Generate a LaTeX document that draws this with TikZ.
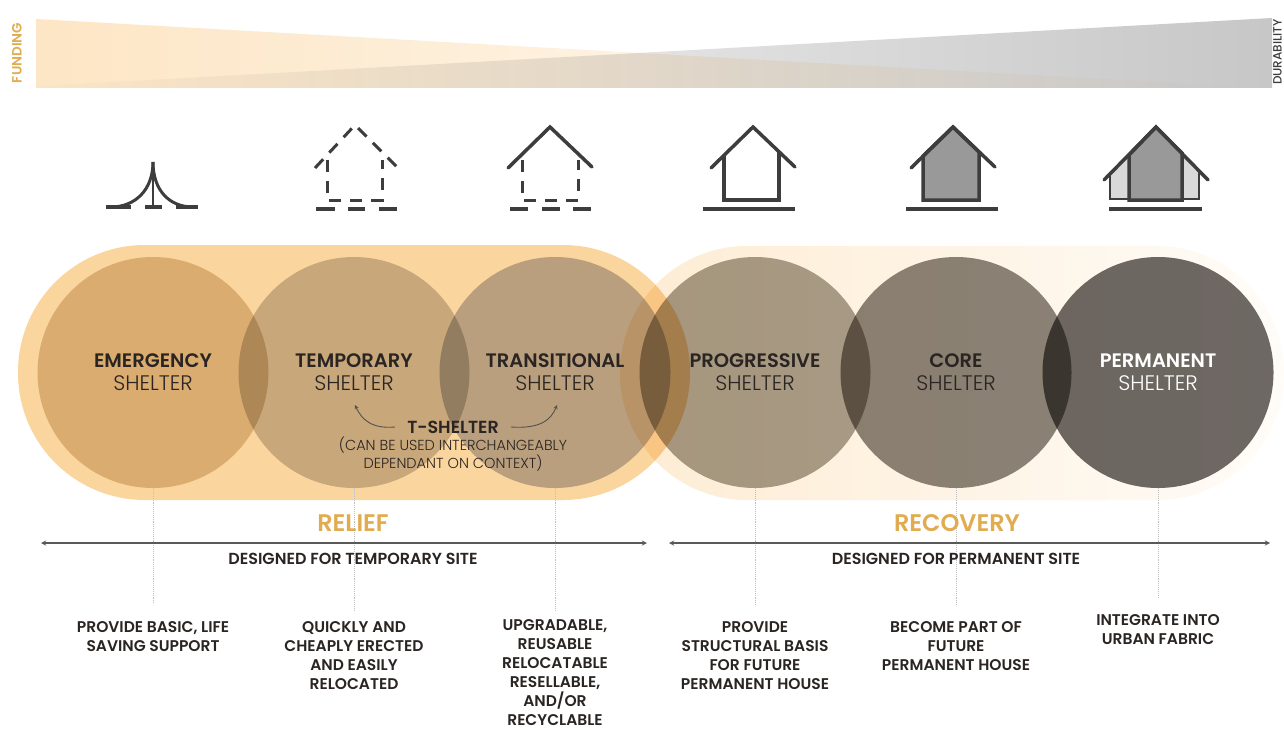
\documentclass[tikz,border=0pt]{standalone}
\usepackage{fontspec}
\setmainfont{Poppins}[UprightFont=* Medium,BoldFont=* SemiBold]
\newfontfamily\lightfont{Poppins Light}
\definecolor{reliefcol}{HTML}{FBD59E}
\definecolor{relieftxt}{HTML}{E0AC4F}
\definecolor{inkcol}{HTML}{3D3D3D}
\definecolor{txtcol}{HTML}{2A2522}
\definecolor{emergencycol}{RGB}{222,206,181}
\definecolor{temporarycol}{RGB}{204,201,197}
\definecolor{transitionalcol}{RGB}{188,191,202}
\definecolor{progressivecol}{RGB}{168,162,150}
\definecolor{corecol}{RGB}{139,134,127}
\definecolor{permanentcol}{RGB}{110,106,104}
\tikzset{
	disc/.style={circle,minimum size=231pt,inner sep=0pt,fill=#1},
	title/.style={align=center,text=txtcol,font=\fontsize{19.5}{23}\selectfont},
	small/.style={align=center,text=txtcol,font=\bfseries\fontsize{15.5}{19}\selectfont},
	sitetxt/.style={small,font=\bfseries\fontsize{16}{18}\selectfont},
	band/.style={font=\bfseries\fontsize{24}{26}\selectfont,text=relieftxt},
	leader/.style={gray!50,densely dotted,line width=0.9pt},
	span/.style={<->,>=stealth,line width=1.3pt,black!65},
	solid line/.style={inkcol,line width=3.5pt,line cap=round,line join=miter},
	dash line/.style={inkcol,line width=3pt,dash pattern=on 12pt off 9pt},
	ground/.style={inkcol,line width=4pt}
}
\begin{document}
\begin{tikzpicture}[x=1pt,y=-1pt]
	%%%%% START %%%%%
	\def\cy{372.5}
	\def\xone{153}
	\def\xtwo{354}
	\def\xthree{555}
	\def\xfour{755}
	\def\xfive{956}
	\def\xsix{1158}
	\def\ygr{209}
	\useasboundingbox[fill=white] (0,0) rectangle (1284,730);

	% bars at the top
	\begin{scope}[blend mode=multiply]
		\shade[left color=white,middle color=black!9,right color=black!22] (5,88) -- (1272,18) -- (1272,88) -- cycle;
		\shade[left color=reliefcol!60,middle color=reliefcol!45,right color=white] (36,19) -- (1262,88) -- (36,88) -- cycle;
	\end{scope}
	\node[rotate=90,text=relieftxt,font=\bfseries\fontsize{13.5}{15}\selectfont] (funding) at (17,53) {FUNDING};
	\node[rotate=90,text=inkcol,inner sep=0pt,font=\fontsize{12}{14}\selectfont] (durability) at (1277.5,52) {DURABILITY};

	% tent
	\draw[inkcol,line width=3pt] (\xone,162) .. controls (\xone,190) and (135,207) .. (111,207);
	\draw[inkcol,line width=3pt] (\xone,162) .. controls (\xone,190) and (169,207) .. (193,207);
	\draw[inkcol,line width=1.2pt] (\xone,172) -- (\xone,207);
	\draw[ground] (106,207) -- (131,207);
	\draw[ground] (145,207) -- (162,207);
	\draw[ground] (176,207) -- (198,207);

	% dashed house
	\draw[dash line] (315,168) -- (355,125) -- (398,168);
	\draw[dash line] (327,160) -- (327,200) -- (382,200) -- (382,160);
	\draw[ground] (316,\ygr) -- (335,\ygr);
	\draw[ground] (348,\ygr) -- (365,\ygr);
	\draw[ground] (379,\ygr) -- (397,\ygr);

	% dashed walls, solid roof
	\draw[dash line] (522,160) -- (522,200) -- (578,200) -- (578,160);
	\draw[solid line] (508,168) -- (550,127) -- (592,167);
	\draw[ground] (510,\ygr) -- (528,\ygr);
	\draw[ground] (542,\ygr) -- (560,\ygr);
	\draw[ground] (573,\ygr) -- (591,\ygr);

	% solid house
	\draw[inkcol,line width=3.5pt] (724,156) -- (724,200) -- (779,200) -- (779,152);
	\draw[solid line] (711,168) -- (753,127) -- (795,167);
	\draw[ground] (703,\ygr) -- (795,\ygr);

	% filled house
	\draw[inkcol,line width=3.5pt,fill=black!40] (923,156) -- (923,200) -- (979,200) -- (979,152) -- (953,127) -- cycle;
	\draw[solid line] (911,168) -- (953,127) -- (995,167);
	\draw[ground] (906,\ygr) -- (998,\ygr);

	% house with wings
	\draw[inkcol,line width=1.8pt,fill=black!15] (1110,174) -- (1110,199) -- (1129,199) -- (1129,155) -- cycle;
	\draw[inkcol,line width=1.8pt,fill=black!15] (1199,171) -- (1199,199) -- (1182,199) -- (1182,153) -- cycle;
	\draw[inkcol,line width=3.5pt,fill=black!40] (1129,155) -- (1129,200) -- (1182,200) -- (1182,153) -- (1156,127) -- cycle;
	\draw[solid line] (1104,180) -- (1156,127) -- (1208,180);
	\draw[ground] (1109,\ygr) -- (1202,\ygr);

	% capsules and discs
	\begin{scope}[blend mode=multiply]
		\fill[reliefcol,rounded corners=127pt] (18,245) rectangle (690,500);
		\shade[left color=reliefcol!45,right color=reliefcol!8,rounded corners=127pt] (620,246) rectangle (1284,500);
		\node[disc=emergencycol] (emergency) at (\xone,\cy) {};
		\node[disc=temporarycol] (temporary) at (\xtwo,\cy) {};
		\node[disc=transitionalcol] (transitional) at (\xthree,\cy) {};
		\node[disc=progressivecol] (progressive) at (\xfour,\cy) {};
		\node[disc=corecol] (core) at (\xfive,\cy) {};
		\node[disc=permanentcol] (permanent) at (\xsix,\cy) {};
	\end{scope}

	\node[title] (emergencytxt) at (\xone,\cy) {\textbf{EMERGENCY}\\{\lightfont\fontsize{21}{23}\selectfont SHELTER}};
	\node[title] (temporarytxt) at (\xtwo,\cy) {\textbf{TEMPORARY}\\{\lightfont\fontsize{21}{23}\selectfont SHELTER}};
	\node[title] (transitionaltxt) at (\xthree,\cy) {\textbf{TRANSITIONAL}\\{\lightfont\fontsize{21}{23}\selectfont SHELTER}};
	\node[title] (progressivetxt) at (\xfour,\cy) {\textbf{PROGRESSIVE}\\{\lightfont\fontsize{21}{23}\selectfont SHELTER}};
	\node[title] (coretxt) at (\xfive,\cy) {\textbf{CORE}\\{\lightfont\fontsize{21}{23}\selectfont SHELTER}};
	\node[title,text=white] (permanenttxt) at (\xsix,\cy) {\textbf{PERMANENT}\\{\lightfont\fontsize{21}{23}\selectfont SHELTER}};

	% t-shelter
	\node[text=txtcol,inner xsep=12pt,inner ysep=0pt,font=\bfseries\fontsize{17.5}{19}\selectfont] (tshelter) at (453,427) {T-SHELTER};
	\node[align=center,text=txtcol,font=\lightfont\fontsize{14.5}{16}\selectfont] (tnote) at (453,454) {(CAN BE USED INTERCHANGEABLY\\DEPENDANT ON CONTEXT)};
	\coordinate (tleft) at (355,405);
	\coordinate (tright) at (557,405);
	\draw[->,>=stealth,txtcol!80,line width=0.9pt] (tshelter.west) .. controls (372,429) and (362,420) .. (tleft);
	\draw[->,>=stealth,txtcol!80,line width=0.9pt] (tshelter.east) .. controls (540,429) and (551,420) .. (tright);

	% leaders
	\coordinate (leadone) at (\xone,603);
	\coordinate (leadtwo) at (\xtwo,610);
	\coordinate (leadthree) at (\xthree,610);
	\coordinate (leadfour) at (\xfour,605);
	\coordinate (leadfive) at (\xfive,605);
	\coordinate (leadsix) at (\xsix,598);
	\draw[leader] (emergency.south) -- (leadone);
	\draw[leader] (temporary.south) -- (leadtwo);
	\draw[leader] (transitional.south) -- (leadthree);
	\draw[leader] (progressive.south) -- (leadfour);
	\draw[leader] (core.south) -- (leadfive);
	\draw[leader] (permanent.south) -- (leadsix);

	% relief and recovery
	\node[band] (relief) at (353,523) {RELIEF};
	\node[band] (recovery) at (957,523) {RECOVERY};
	\coordinate (reliefa) at (41,543);
	\coordinate (reliefb) at (647,543);
	\coordinate (recova) at (669,543);
	\coordinate (recovb) at (1270,543);
	\draw[span] (reliefa) -- (reliefb);
	\draw[span] (recova) -- (recovb);
	\node[sitetxt] (tempsite) at (353,559) {DESIGNED FOR TEMPORARY SITE};
	\node[sitetxt] (permsite) at (956,559) {DESIGNED FOR PERMANENT SITE};

	% purposes
	\node[small,anchor=north] (purposeone) at (\xone,618) {PROVIDE BASIC, LIFE\\SAVING SUPPORT};
	\node[small,anchor=north] (purposetwo) at (\xtwo,618) {QUICKLY AND\\CHEAPLY ERECTED\\AND EASILY\\RELOCATED};
	\node[small,anchor=north] (purposethree) at (\xthree,616) {UPGRADABLE,\\REUSABLE\\RELOCATABLE\\RESELLABLE,\\AND/OR\\RECYCLABLE};
	\node[small,anchor=north] (purposefour) at (\xfour,618) {PROVIDE\\STRUCTURAL BASIS\\FOR FUTURE\\PERMANENT HOUSE};
	\node[small,anchor=north] (purposefive) at (\xfive,618) {BECOME PART OF\\FUTURE\\PERMANENT HOUSE};
	\node[small,anchor=north] (purposesix) at (\xsix,611) {INTEGRATE INTO\\URBAN FABRIC};
	%%%%% END %%%%%
\end{tikzpicture}
\end{document}
